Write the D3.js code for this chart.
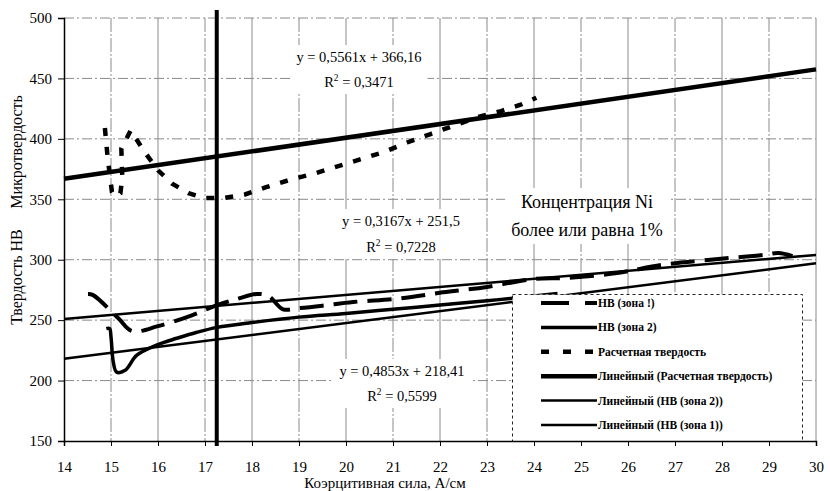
<!DOCTYPE html>
<html>
<head>
<meta charset="utf-8">
<script src="https://cdnjs.cloudflare.com/ajax/libs/d3/7.8.5/d3.min.js"></script>
<style>
  body { margin: 0; background: #fff; }
  svg { display: block; font-family: "Liberation Serif", "Times New Roman", serif; }
</style>
</head>
<body>
<svg></svg>
<script>
// ---- data ----
let xTicks = [14, 15, 16, 17, 18, 19, 20, 21, 22, 23, 24, 25, 26, 27, 28, 29, 30];
let yTicks = [150, 200, 250, 300, 350, 400, 450, 500];

// НВ (зона 1), dashed
let zone1X = [14.51, 14.62, 15.15, 15.45, 16.0, 16.72, 17.26, 17.68, 18.1, 18.35, 18.66, 19.0, 19.5, 20.15, 21.15, 22.06, 23.0, 23.98, 24.7, 25.77, 26.7, 27.7, 28.9, 29.2, 29.5];
let zone1Y = [271.6, 270.7, 251.8, 241, 245, 254, 262.5, 267.5, 271.6, 270, 259, 260, 262, 265, 268, 273, 277.5, 284, 285, 289, 295.6, 299.8, 304, 305.5, 303];

// НВ (зона 2), solid
let zone2X = [14.9, 14.97, 15.0, 15.05, 15.12, 15.3, 15.55, 15.98, 16.4, 16.83, 17.26, 18.0, 19.0, 20.0, 21.0, 22.0, 23.0, 23.5, 24.5];
let zone2Y = [243, 243, 236, 215, 207, 208.5, 221, 229.5, 235, 240, 244, 248, 252.5, 255.5, 259, 262.5, 266, 268, 272];

// Расчетная твердость, dotted
let calcX = [14.87, 14.93, 15.02, 15.1, 15.2, 15.24, 15.22, 15.42, 15.7, 16.0, 16.3, 16.65, 17.0, 17.4, 17.85, 18.3, 18.8, 19.3, 19.8, 20.3, 20.8, 21.3, 21.8, 22.3, 22.8, 23.3, 23.7, 24.05];
let calcY = [409, 384, 356, 352, 355, 368, 392, 407, 390, 374, 363, 355, 351, 351, 354, 360, 366, 371, 377, 383, 389, 397, 404, 411, 418, 423, 428, 434];

// trend lines (end points)
let trendX = [14, 30];
let trendCalc = [367, 457.5];
let trendZone2 = [251, 304];
let trendZone1 = [218, 297];

let markerX = 17.25;

let legendNames = ['НВ (зона !)', 'НВ (зона 2)', 'Расчетная твердость', 'Линейный (Расчетная твердость)', 'Линейный (НВ (зона 2))', 'Линейный (НВ (зона 1))'];

// ---- layout ----
let width = 830;
let height = 491;
let padLeft = 64, padRight = 816, padTop = 18, padBottom = 441;

let svg = d3.select('svg').attr('width', width).attr('height', height);

let xScale = d3.scaleLinear().domain([14, 30]).range([padLeft, padRight]);
let yScale = d3.scaleLinear().domain([150, 500]).range([padBottom, padTop]);

let pairs = (xs, ys) => xs.map((v, i) => [v, ys[i]]);

let line = d3.line()
    .x(d => xScale(d[0]))
    .y(d => yScale(d[1]))
    .curve(d3.curveCatmullRom.alpha(0.5));

let straight = d3.line()
    .x(d => xScale(d[0]))
    .y(d => yScale(d[1]));

// grid
let drawGrid = () => {
    svg.append('g')
        .selectAll('line')
        .data(xTicks.slice(1))
        .enter()
        .append('line')
        .attr('x1', d => xScale(d)).attr('x2', d => xScale(d))
        .attr('y1', padTop).attr('y2', padBottom)
        .attr('stroke', '#8a8a8a')
        .attr('stroke-width', 1)
        .attr('stroke-dasharray', (d, i) => i % 2 ? null : '14,2,2,2');

    svg.append('g')
        .selectAll('line')
        .data(yTicks.slice(1))
        .enter()
        .append('line')
        .attr('x1', padLeft).attr('x2', padRight)
        .attr('y1', d => yScale(d)).attr('y2', d => yScale(d))
        .attr('stroke', '#8a8a8a')
        .attr('stroke-width', 1)
        .attr('stroke-dasharray', '10,3,2,3');
}

let drawSeries = () => {
    // vertical marker
    svg.append('line')
        .attr('x1', xScale(markerX)).attr('x2', xScale(markerX))
        .attr('y1', padTop - 8).attr('y2', padBottom + 5)
        .attr('stroke', '#000').attr('stroke-width', 4);

    svg.append('path')
        .datum(pairs(zone2X, zone2Y))
        .attr('d', line)
        .attr('fill', 'none').attr('stroke', '#000')
        .attr('stroke-width', 3.5).attr('stroke-linejoin', 'round');

    svg.append('path')
        .datum(pairs(zone1X, zone1Y))
        .attr('d', line)
        .attr('fill', 'none').attr('stroke', '#000')
        .attr('stroke-width', 4).attr('stroke-dasharray', '24,10');

    svg.append('path')
        .datum(pairs(calcX, calcY))
        .attr('d', straight)
        .attr('fill', 'none').attr('stroke', '#000')
        .attr('stroke-width', 4.5).attr('stroke-dasharray', '8,11');

    svg.append('path')
        .datum(pairs(trendX, trendCalc))
        .attr('d', straight)
        .attr('fill', 'none').attr('stroke', '#000').attr('stroke-width', 4.5);

    svg.append('path')
        .datum(pairs(trendX, trendZone2))
        .attr('d', straight)
        .attr('fill', 'none').attr('stroke', '#000').attr('stroke-width', 2.5);

    svg.append('path')
        .datum(pairs(trendX, trendZone1))
        .attr('d', straight)
        .attr('fill', 'none').attr('stroke', '#000').attr('stroke-width', 2.5);
}

// text block with white box behind it
let label = (cx, y0, lines, size, gap) => {
    let g = svg.append('g');
    let box = g.append('rect').attr('fill', '#fff');
    lines.forEach((t, i) => {
        let tx = g.append('text')
            .attr('x', cx).attr('y', y0 + i * gap)
            .attr('text-anchor', 'middle')
            .attr('font-size', size);
        if (typeof t === 'string') {
            tx.text(t);
        } else {
            tx.append('tspan').text(t[0]);
            tx.append('tspan').attr('dy', -6).attr('font-size', size * 0.65).text('2');
            tx.append('tspan').attr('dy', 6).text(t[1]);
        }
    });
    let bb = g.node().getBBox();
    box.attr('x', bb.x - 6).attr('y', bb.y - 4)
        .attr('width', bb.width + 12).attr('height', bb.height + 8);
}

let drawLabels = () => {
    label(359, 62, ['y = 0,5561x + 366,16', ['R', ' = 0,3471']], 14.5, 25);
    label(401, 226, ['y = 0,3167x + 251,5', ['R', ' = 0,7228']], 14.5, 26);
    label(402, 376, ['y = 0,4853x + 218,41', ['R', ' = 0,5599']], 14.5, 25);
    label(587, 208, ['Концентрация Ni', 'более или равна 1%'], 18, 28);
}

let drawLegend = () => {
    let g = svg.append('g');
    g.append('rect')
        .attr('x', 512.5).attr('y', 294.5)
        .attr('width', 290).attr('height', 147)
        .attr('fill', '#fff').attr('stroke', '#222')
        .attr('stroke-dasharray', '3,3');

    let styles = [
        { w: 4, dash: '28,16' },
        { w: 3.5, dash: null },
        { w: 4.5, dash: '8,14' },
        { w: 4.5, dash: null },
        { w: 2.5, dash: null },
        { w: 2.5, dash: null }
    ];
    legendNames.forEach((name, i) => {
        let yy = 303 + i * 24.4;
        g.append('line')
            .attr('x1', 541).attr('x2', 597)
            .attr('y1', yy).attr('y2', yy)
            .attr('stroke', '#000')
            .attr('stroke-width', styles[i].w)
            .attr('stroke-dasharray', styles[i].dash);
        g.append('text')
            .attr('x', 598).attr('y', yy + 4)
            .attr('font-size', 11.5)
            .attr('font-weight', 'bold')
            .text(name);
    });
}

let drawAxes = () => {
    let yAxis = d3.axisLeft(yScale).tickValues(yTicks).tickSize(6).tickPadding(6);
    let xAxis = d3.axisBottom(xScale).tickValues(xTicks).tickSize(5).tickPadding(15);

    let gy = svg.append('g')
        .attr('transform', 'translate(' + padLeft + ',0)')
        .call(yAxis);
    let gx = svg.append('g')
        .attr('transform', 'translate(0,' + padBottom + ')')
        .call(xAxis);

    [gx, gy].forEach(g => {
        g.select('.domain').attr('stroke', '#000').attr('stroke-width', 1.5);
        g.selectAll('.tick line').attr('stroke', '#000');
        g.selectAll('.tick text')
            .attr('fill', '#000')
            .attr('font-family', '"Liberation Serif", serif')
            .attr('font-size', 15);
    });

    svg.append('text')
        .attr('x', 385).attr('y', 488)
        .attr('text-anchor', 'middle')
        .attr('font-size', 15)
        .text('Коэрцитивная сила, А/см');

    svg.append('text')
        .attr('transform', 'translate(22,152) rotate(-90)')
        .attr('text-anchor', 'middle')
        .attr('font-size', 16)
        .text('Микротвердость');

    svg.append('text')
        .attr('transform', 'translate(22,277) rotate(-90)')
        .attr('text-anchor', 'middle')
        .attr('font-size', 16)
        .text('Твердость НВ');
}

drawGrid();
drawSeries();
drawLabels();
drawLegend();
drawAxes();
</script>
</body>
</html>
